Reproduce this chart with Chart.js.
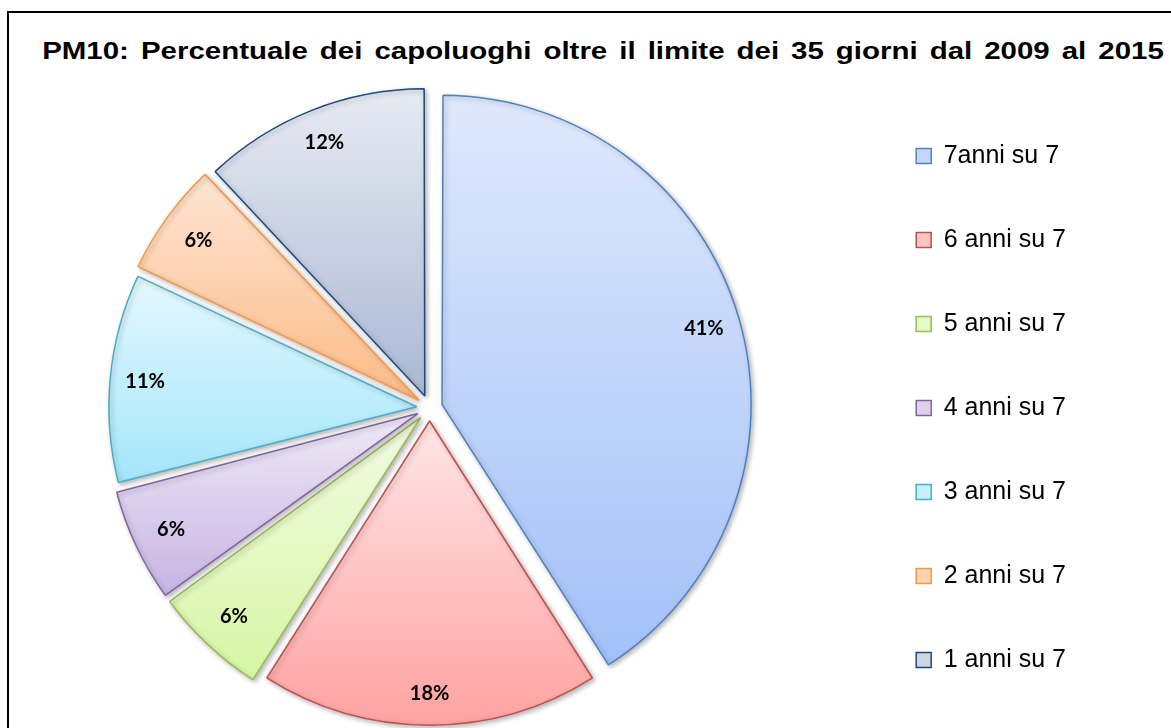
<!DOCTYPE html>
<html lang="it">
<head>
  <meta charset="UTF-8">
  <title>PM10 capoluoghi</title>
  <script src="https://cdn.jsdelivr.net/npm/chart.js"></script>
  <style>
    html, body { margin: 0; padding: 0; overflow: hidden; background: #fff; }
    #frame {
      position: absolute; left: 7px; top: 11px;
      width: 1300px; height: 800px;
      border: 2px solid #000;
    }
    #title {
      position: absolute; left: 0; top: 37px; width: 1206px;
      text-align: center;
      font: bold 23px "Liberation Sans", Arial, sans-serif;
      line-height: 28px;
      word-spacing: 3px;
      color: #000;
      white-space: nowrap;
      transform: scaleX(1.28);
      transform-origin: 603px 0;
    }
    #wrap { position: absolute; left: 0; top: 0; width: 1171px; height: 744px; }
  </style>
</head>
<body>
  <div id="frame"></div>
  <div id="title">PM10: Percentuale dei capoluoghi oltre il limite dei 35 giorni dal 2009 al 2015</div>
  <div id="wrap"><canvas id="chartCanvas"></canvas></div>

  <script>
    // data
    const categories = ['7anni su 7', '6 anni su 7', '5 anni su 7', '4 anni su 7', '3 anni su 7', '2 anni su 7', '1 anni su 7'];
    const values = [41, 18, 6, 6, 11, 6, 12];

    // colours (gradient top / bottom, border)
    const topColors = ['#dfe9fc', '#ffe3e3', '#f1fbdf', '#eee8f6', '#e4f8fe', '#fee7d6', '#e9edf4'];
    const bottomColors = ['#a3c1f8', '#ff9f9f', '#d5f6a2', '#c5b2e2', '#a4e6fb', '#fcbc88', '#acbad5'];
    const borderColors = ['#4f81bd', '#c0504d', '#9bbb59', '#8064a2', '#4bacc6', '#f79646', '#1f497d'];

    const RADIUS = 303;
    const OFFSET = 52; // chart.js draws offset/4 px of explode

    function mix(a, b, t) {
      const pa = [1, 3, 5].map(i => parseInt(a.substr(i, 2), 16));
      const pb = [1, 3, 5].map(i => parseInt(b.substr(i, 2), 16));
      return 'rgb(' + pa.map((v, i) => Math.round(v + (pb[i] - v) * t)).join(',') + ')';
    }

    function sliceAngles(i) {
      const total = values.reduce((s, v) => s + v, 0);
      let before = 0;
      for (let k = 0; k < i; k++) before += values[k];
      const start = -Math.PI / 2 + 2 * Math.PI * before / total;
      const end = start + 2 * Math.PI * values[i] / total;
      return { start, end };
    }

    function sliceGradient(c) {
      const chart = c.chart;
      const area = chart.chartArea;
      const i = c.dataIndex;
      if (!area || i === undefined) return topColors[i || 0];
      const cy = (area.top + area.bottom) / 2;
      const { start, end } = sliceAngles(i);
      const mid = (start + end) / 2;
      const shift = OFFSET / 4;
      const r = RADIUS + shift * (1 - Math.sin(Math.min(Math.PI, end - start)));
      const ys = [0, r * Math.sin(start), r * Math.sin(end)];
      for (let k = -2; k <= 2; k++) {
        const a = Math.PI / 2 + k * Math.PI;
        if (a > start && a < end) ys.push(r * Math.sin(a));
      }
      const dy = cy + Math.sin(mid) * shift;
      const g = chart.ctx.createLinearGradient(0, dy + Math.min(...ys), 0, dy + Math.max(...ys));
      g.addColorStop(0, topColors[i]);
      g.addColorStop(1, bottomColors[i]);
      return g;
    }

    const shadowPlugin = {
      id: 'sliceShadow',
      beforeDatasetsDraw(chart) {
        const ctx = chart.ctx;
        ctx.save();
        ctx.shadowColor = 'rgba(0,0,0,0.28)';
        ctx.shadowBlur = 5;
        ctx.shadowOffsetX = 2;
        ctx.shadowOffsetY = 2;
      },
      afterDatasetsDraw(chart) {
        chart.ctx.restore();
      }
    };

    const labelPlugin = {
      id: 'sliceLabels',
      afterDatasetsDraw(chart) {
        const ctx = chart.ctx;
        const meta = chart.getDatasetMeta(0);
        ctx.save();
        ctx.font = 'bold 20px Lato, "Open Sans", sans-serif';
        ctx.fillStyle = '#000';
        ctx.textAlign = 'center';
        ctx.textBaseline = 'middle';
        meta.data.forEach((arc, i) => {
          const mid = (arc.startAngle + arc.endAngle) / 2;
          const dist = (arc.options.offset || 0) / 4 + arc.outerRadius * 0.9;
          ctx.fillText(values[i] + '%', arc.x + Math.cos(mid) * dist, arc.y + Math.sin(mid) * dist);
        });
        ctx.restore();
      }
    };

    const ctx = document.getElementById('chartCanvas').getContext('2d');
    new Chart(ctx, {
      type: 'pie',
      data: {
        labels: categories,
        datasets: [{
          data: values,
          backgroundColor: sliceGradient,
          borderColor: borderColors,
          borderWidth: 1.5,
          offset: OFFSET,
          clip: false
        }]
      },
      options: {
        responsive: true,
        maintainAspectRatio: false,
        animation: false,
        radius: RADIUS,
        layout: { padding: { top: 80, bottom: 8, left: 2, right: 95 } },
        plugins: {
          title: { display: false },
          tooltip: { enabled: false },
          legend: {
            position: 'right',
            labels: {
              boxWidth: 15,
              boxHeight: 15,
              padding: 59,
              color: '#000',
              font: { family: '"Liberation Sans", Arial, sans-serif', size: 25 },
              generateLabels: () => categories.map((text, i) => ({
                text,
                fillStyle: mix(topColors[i], bottomColors[i], 0.45),
                strokeStyle: borderColors[i],
                lineWidth: 1.5,
                fontColor: '#000',
                hidden: false,
                index: i
              }))
            }
          }
        }
      },
      plugins: [shadowPlugin, labelPlugin]
    });
  </script>
</body>
</html>
